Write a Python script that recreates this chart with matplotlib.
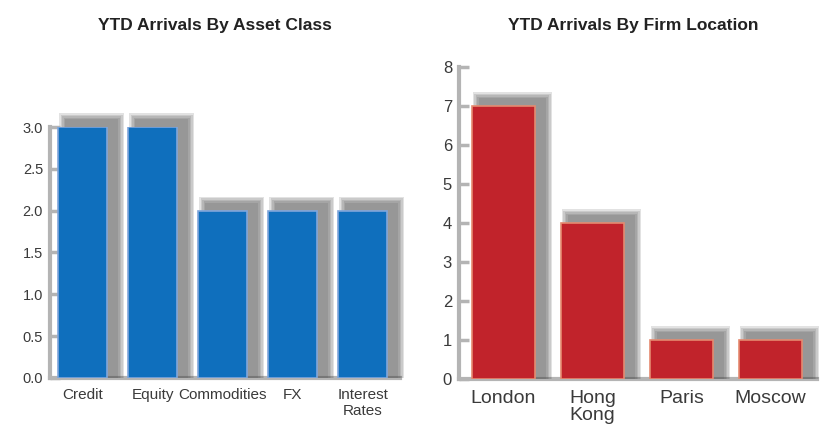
import matplotlib

matplotlib.use("Agg")
import matplotlib.pyplot as plt

plt.rcParams["font.family"] = ["Liberation Sans", "DejaVu Sans"]

# data
asset_classes = ["Credit", "Equity", "Commodities", "FX", "Interest\nRates"]
asset_counts = [3, 3, 2, 2, 2]
asset_ticks = [0.0, 0.5, 1.0, 1.5, 2.0, 2.5, 3.0]

locations = ["London", "Hong\nKong", "Paris", "Moscow"]
location_counts = [7, 4, 1, 1]
location_ticks = [0, 1, 2, 3, 4, 5, 6, 7, 8]

BLUE = "#0f6fbd"
BLUE_EDGE = "#7fa6dc"
RED = "#c1232b"
RED_EDGE = "#e58a70"
AXIS_GREY = "#b4b4b4"
TEXT = "#3a3a3a"

fig = plt.figure(figsize=(8.4, 4.45), dpi=100)


def shadow_bars(ax, xs, values, width, px_x, px_y):
    # soft drop shadow, shifted right and up, from stacked translucent bars
    for spread in (6, 4.5, 3, 1.5, 0):
        lefts = [x - width / 2 + (7 - spread) / px_x for x in xs]
        w = width + (4 + 2 * spread) / px_x
        heights = [v + (8 + spread) / px_y for v in values]
        ax.bar(lefts, heights, width=w, align="edge", color="#505050",
               alpha=0.16, linewidth=0, clip_on=False, zorder=1)


def style(ax, ticks, labelsize):
    for s in ("top", "right"):
        ax.spines[s].set_visible(False)
    for s in ("left", "bottom"):
        ax.spines[s].set_color(AXIS_GREY)
        ax.spines[s].set_linewidth(3)
        ax.spines[s].set_zorder(0)
    ax.set_yticks(ticks)
    ax.tick_params(axis="y", direction="in", length=7, width=2.5,
                   color=AXIS_GREY, labelcolor=TEXT, labelsize=labelsize, pad=5)
    ax.tick_params(axis="x", length=0, labelcolor=TEXT)


# left panel
ax1 = fig.add_axes([0.0595, 0.1506, 0.4167, 0.564])
x1 = list(range(len(asset_classes)))
ax1.set_xlim(-0.47, 4.53)
ax1.set_ylim(0, 3.0)
shadow_bars(ax1, x1, asset_counts, 0.7, 350 / 5.0, 251 / 3.0)
ax1.bar(x1, asset_counts, width=0.7, color=BLUE, edgecolor=BLUE_EDGE,
        linewidth=1.2, zorder=3)
style(ax1, asset_ticks, 10.5)
ax1.set_yticklabels([f"{t:.1f}" for t in asset_ticks])
ax1.set_xticks(x1)
ax1.set_xticklabels(asset_classes, fontsize=11, linespacing=1.25)
ax1.tick_params(axis="x", pad=7)
fig.text(0.256, 0.943, "YTD Arrivals By Asset Class", ha="center", va="center",
         fontsize=12.5, fontweight="bold", color="#222222")

# right panel
ax2 = fig.add_axes([0.5464, 0.148, 0.426, 0.701])
x2 = list(range(len(locations)))
ax2.set_xlim(-0.5, 3.52)
ax2.set_ylim(0, 8)
shadow_bars(ax2, x2, location_counts, 0.71, 358 / 4.02, 312 / 8.0)
ax2.bar(x2, location_counts, width=0.71, color=RED, edgecolor=RED_EDGE,
        linewidth=1.2, zorder=3)
style(ax2, location_ticks, 12)
ax2.set_xticks(x2)
ax2.set_xticklabels(locations, fontsize=14, linespacing=1.0)
ax2.tick_params(axis="x", pad=8)
fig.text(0.754, 0.943, "YTD Arrivals By Firm Location", ha="center", va="center",
         fontsize=12.5, fontweight="bold", color="#222222")

fig.savefig("out.png", dpi=100)
